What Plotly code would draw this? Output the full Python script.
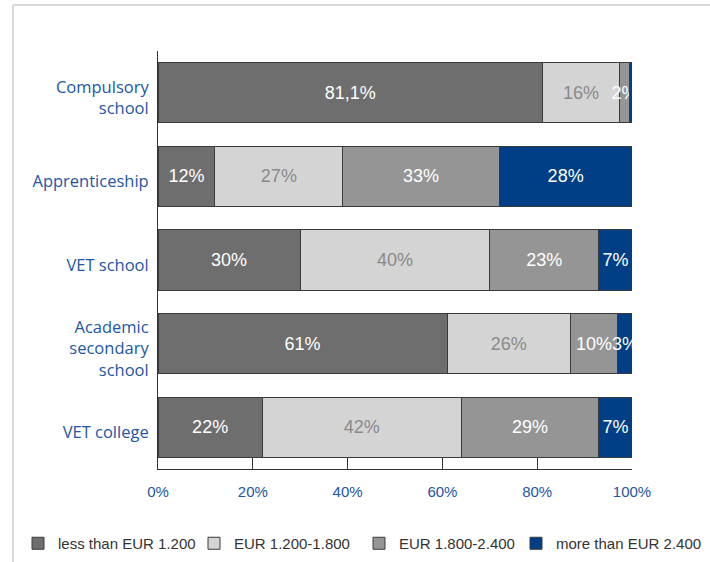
import plotly.graph_objects as go

categories = ["Compulsory<br>school", "Apprenticeship", "VET school",
              "Academic<br>secondary<br>school", "VET college"]
series_names = ["less than EUR 1.200", "EUR 1.200-1.800", "EUR 1.800-2.400", "more than EUR 2.400"]
values = [
    [81.1, 12, 30, 61, 22],
    [16.3, 27, 40, 26, 42],
    [2.0, 33, 23, 10, 29],
    [0.6, 28, 7, 3, 7],
]
labels = [
    ["81,1%", "12%", "30%", "61%", "22%"],
    ["16%", "27%", "40%", "26%", "42%"],
    ["2%", "33%", "23%", "10%", "29%"],
    ["", "28%", "7%", "3%", "7%"],
]
tick_vals = [0, 20, 40, 60, 80, 100]
tick_text = ["0%", "20%", "40%", "60%", "80%", "100%"]

colors = ["#6e6e6e", "#d4d4d4", "#959595", "#003f86"]
text_colors = ["#ffffff", "#8a8a8a", "#ffffff", "#ffffff"]
legend_ids = ["legend", "legend2", "legend3", "legend4"]

fig = go.Figure()
for name, vals, labs, col, tcol, lid in zip(series_names, values, labels, colors, text_colors, legend_ids):
    fig.add_trace(go.Bar(
        y=categories, x=vals, name=name, orientation="h", legend=lid,
        marker=dict(color=col, line=dict(color="#3a3a3a", width=1)),
        text=labs, textposition="inside", insidetextanchor="middle",
        constraintext="none", textangle=0, cliponaxis=True,
        textfont=dict(family="Liberation Sans, Arial", size=18, color=tcol),
        hoverinfo="skip",
    ))

L, R, T, B = 158, 632, 51, 469
W, H = 710, 562
def px(x):
    return (x - L) / (R - L)
def py(y):
    return (B - y) / (B - T)

legend_x_px = [18, 194, 359, 516]
legend_style = dict(orientation="h", xanchor="left", y=py(527), yanchor="top",
                    font=dict(family="Liberation Sans, Arial", size=15, color="#333333"),
                    itemwidth=30, bgcolor="rgba(0,0,0,0)")
legends = {lid: dict(x=px(xp), **legend_style) for lid, xp in zip(legend_ids, legend_x_px)}

fig.update_layout(
    width=W, height=H, barmode="stack", bargap=0.28,
    paper_bgcolor="white", plot_bgcolor="white",
    margin=dict(l=L, r=W - R, t=T, b=H - B, pad=0, autoexpand=False),
    xaxis=dict(range=[0, 100], tickvals=tick_vals, ticktext=tick_text,
               showgrid=False, zeroline=False, showline=True, linecolor="#333333",
               linewidth=1, ticks="inside", ticklen=11, tickcolor="#333333",
               ticklabelstandoff=9,
               tickfont=dict(family="Liberation Sans, Arial", size=15, color="#2256a6"),
               fixedrange=True, automargin=False),
    yaxis=dict(autorange="reversed", showgrid=False, zeroline=False, showline=True,
               linecolor="#333333", linewidth=1, ticks="", ticklabelstandoff=5,
               ticklabelshift=-5, automargin=False,
               tickfont=dict(family="Open Sans", size=16.5, color="#2256a6")),
    showlegend=True,
    shapes=[
        dict(type="line", xref="paper", yref="paper", x0=px(13), x1=px(712), y0=py(5), y1=py(5),
             line=dict(color="#d8d8d8", width=2)),
        dict(type="line", xref="paper", yref="paper", x0=px(13), x1=px(13), y0=py(5), y1=py(564),
             line=dict(color="#d8d8d8", width=2)),
    ],
    **legends,
)

fig.write_html("out.html")
